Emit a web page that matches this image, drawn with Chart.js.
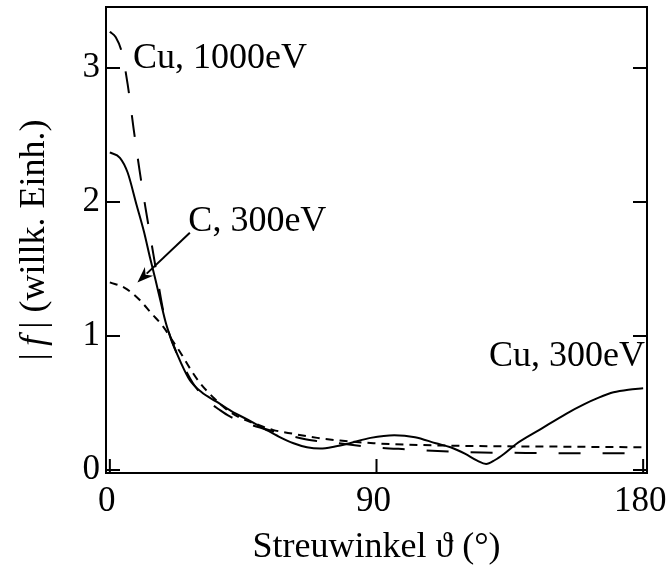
<!DOCTYPE html>
<html>
<head>
<meta charset="utf-8">
<script src="https://cdn.jsdelivr.net/npm/chart.js@4.4.1/dist/chart.umd.min.js"></script>
<style>
  html, body { margin: 0; padding: 0; background: #fff; }
  #wrap { width: 666px; height: 571px; }
</style>
</head>
<body>
<div id="wrap"><canvas id="ampChart" width="666" height="571"></canvas></div>
<script>
// Streuamplitude |f| über Streuwinkel
const thetaCu300 = [0, 3.4, 6, 9, 11.5, 13.5, 15.5, 17, 19, 21, 24, 27, 31, 36, 41, 47, 52, 57, 62, 66.5, 71, 76, 81, 88, 96, 103, 110, 115, 120, 124, 127, 130, 133, 137.5, 145, 154, 160, 165, 170, 175, 180];
const fCu300 = [2.37, 2.33, 2.22, 1.98, 1.78, 1.59, 1.41, 1.27, 1.09, 0.96, 0.80, 0.67, 0.58, 0.51, 0.44, 0.37, 0.31, 0.25, 0.20, 0.17, 0.16, 0.175, 0.20, 0.24, 0.26, 0.245, 0.20, 0.17, 0.12, 0.07, 0.045, 0.075, 0.12, 0.20, 0.30, 0.42, 0.49, 0.54, 0.58, 0.60, 0.61];

const thetaCu1000 = [0, 2, 4, 6, 8, 10, 12, 14, 16, 18, 20, 22, 24.3, 28, 32.8, 37, 40.5, 46, 55, 62, 68.6, 77, 89, 100, 118, 145, 180];
const fCu1000 = [3.27, 3.23, 3.12, 2.88, 2.55, 2.24, 1.96, 1.70, 1.44, 1.19, 1.02, 0.90, 0.80, 0.65, 0.52, 0.45, 0.40, 0.35, 0.29, 0.25, 0.22, 0.20, 0.17, 0.155, 0.135, 0.127, 0.125];

const thetaC300 = [0, 5, 10, 14, 18, 21, 24, 27, 30.4, 35, 39.5, 44, 49.7, 55, 62, 70, 77.7, 89, 100, 120, 150, 180];
const fC300 = [1.40, 1.36, 1.27, 1.17, 1.07, 0.97, 0.87, 0.76, 0.65, 0.54, 0.45, 0.39, 0.34, 0.30, 0.27, 0.24, 0.22, 0.20, 0.19, 0.18, 0.175, 0.17];

const xTicks = [0, 90, 180];
const yTicks = [0, 1, 2, 3];

const SERIF = "'Liberation Serif', 'Times New Roman', serif";

function toPoints(xs, ys) {
    return xs.map((x, i) => ({ x: x, y: ys[i] }));
}

function noLabelPadding(scale) {
    scale.paddingLeft = 0;
    scale.paddingRight = 0;
    scale.paddingTop = 0;
    scale.paddingBottom = 0;
}

// Rahmen, Ticks nach innen, y-Titel, Beschriftungen
const framePlugin = {
    id: 'frame',
    afterDraw(chart) {
        const ctx = chart.ctx;
        const a = chart.chartArea;
        const xs = chart.scales.x;
        const ys = chart.scales.y;
        ctx.save();
        ctx.strokeStyle = '#000';
        ctx.lineWidth = 2;
        ctx.strokeRect(a.left, a.top, a.right - a.left, a.bottom - a.top);

        const tl = 14;
        ctx.beginPath();
        xTicks.forEach(v => {
            const px = xs.getPixelForValue(v);
            ctx.moveTo(px, a.bottom);
            ctx.lineTo(px, a.bottom - tl);
        });
        yTicks.forEach(v => {
            const py = ys.getPixelForValue(v);
            ctx.moveTo(a.left, py);
            ctx.lineTo(a.left + tl, py);
            ctx.moveTo(a.right, py);
            ctx.lineTo(a.right - tl, py);
        });
        ctx.stroke();

        // y-Achsentitel mit kursivem f
        ctx.translate(35, (a.top + a.bottom) / 2);
        ctx.rotate(-Math.PI / 2);
        ctx.fillStyle = '#000';
        ctx.textBaseline = 'middle';
        const normal = '36px ' + SERIF;
        const italic = 'italic 36px ' + SERIF;
        const parts = [
            [normal, '|'], [normal, '\u2009'], [italic, 'f'], [normal, '\u2009'],
            [normal, '|'], [normal, ' (willk. Einh.)']
        ];
        let total = 0;
        parts.forEach(p => { ctx.font = p[0]; total += ctx.measureText(p[1]).width; });
        let cx = -total / 2;
        parts.forEach(p => {
            ctx.font = p[0];
            ctx.textAlign = 'left';
            ctx.fillText(p[1], cx, 0);
            cx += ctx.measureText(p[1]).width;
        });
        ctx.restore();

        // Kurvenbeschriftungen
        ctx.save();
        ctx.fillStyle = '#000';
        ctx.font = '36px ' + SERIF;
        ctx.textBaseline = 'alphabetic';
        ctx.textAlign = 'left';
        ctx.fillText('Cu, 1000eV', xs.getPixelForValue(7.8), ys.getPixelForValue(3.0));
        ctx.fillText('C, 300eV', xs.getPixelForValue(26.5), ys.getPixelForValue(1.78));
        ctx.textAlign = 'right';
        ctx.fillText('Cu, 300eV', xs.getPixelForValue(180.6), ys.getPixelForValue(0.78));

        // Pfeil zur C-Kurve
        const x0 = xs.getPixelForValue(27), y0 = ys.getPixelForValue(1.77);
        const x1 = xs.getPixelForValue(9.3), y1 = ys.getPixelForValue(1.40);
        const ang = Math.atan2(y1 - y0, x1 - x0);
        const hl = 16, hw = 6;
        ctx.strokeStyle = '#000';
        ctx.lineWidth = 2;
        ctx.beginPath();
        ctx.moveTo(x0, y0);
        ctx.lineTo(x1 - Math.cos(ang) * hl * 0.8, y1 - Math.sin(ang) * hl * 0.8);
        ctx.stroke();
        ctx.beginPath();
        ctx.moveTo(x1, y1);
        ctx.lineTo(x1 - Math.cos(ang) * hl - Math.sin(ang) * hw, y1 - Math.sin(ang) * hl + Math.cos(ang) * hw);
        ctx.lineTo(x1 - Math.cos(ang) * hl * 0.7, y1 - Math.sin(ang) * hl * 0.7);
        ctx.lineTo(x1 - Math.cos(ang) * hl + Math.sin(ang) * hw, y1 - Math.sin(ang) * hl - Math.cos(ang) * hw);
        ctx.closePath();
        ctx.fill();
        ctx.restore();
    }
};

function createAmplitudeChart() {
    const ctx = document.getElementById('ampChart');
    if (!ctx) return;

    new Chart(ctx, {
        type: 'line',
        data: {
            datasets: [{
                label: 'Cu, 300eV',
                data: toPoints(thetaCu300, fCu300),
                borderColor: '#000',
                borderWidth: 2,
                pointRadius: 0,
                cubicInterpolationMode: 'monotone',
                fill: false
            }, {
                label: 'Cu, 1000eV',
                data: toPoints(thetaCu1000, fCu1000),
                borderColor: '#000',
                borderWidth: 2,
                borderDash: [22, 22],
                pointRadius: 0,
                cubicInterpolationMode: 'monotone',
                fill: false
            }, {
                label: 'C, 300eV',
                data: toPoints(thetaC300, fC300),
                borderColor: '#000',
                borderWidth: 2,
                borderDash: [8, 6],
                pointRadius: 0,
                cubicInterpolationMode: 'monotone',
                fill: false
            }]
        },
        options: {
            responsive: false,
            animation: false,
            layout: { padding: { top: 7, right: 19, bottom: 0, left: 0 } },
            plugins: {
                legend: { display: false },
                tooltip: { enabled: false }
            },
            scales: {
                x: {
                    type: 'linear',
                    min: -1.3,
                    max: 181.3,
                    afterBuildTicks: (scale) => { scale.ticks = xTicks.map(v => ({ value: v })); },
                    afterFit: (scale) => { scale.height = 98; noLabelPadding(scale); },
                    grid: { display: false, drawTicks: false },
                    border: { display: false },
                    ticks: {
                        color: '#000',
                        padding: 8,
                        labelOffset: -3,
                        maxRotation: 0,
                        font: { size: 35, family: SERIF }
                    },
                    title: {
                        display: true,
                        text: 'Streuwinkel \u03D1 (\u00B0)',
                        color: '#000',
                        padding: { top: 0, bottom: 2 },
                        font: { size: 36, family: SERIF }
                    }
                },
                y: {
                    type: 'linear',
                    min: -0.022,
                    max: 3.455,
                    afterBuildTicks: (scale) => { scale.ticks = yTicks.map(v => ({ value: v })); },
                    afterFit: (scale) => { scale.width = 106; noLabelPadding(scale); },
                    grid: { display: false, drawTicks: false },
                    border: { display: false },
                    ticks: {
                        color: '#000',
                        padding: 6,
                        font: { size: 35, family: SERIF }
                    }
                }
            }
        },
        plugins: [framePlugin]
    });
}

document.addEventListener('DOMContentLoaded', () => {
    createAmplitudeChart();
});
</script>
</body>
</html>
